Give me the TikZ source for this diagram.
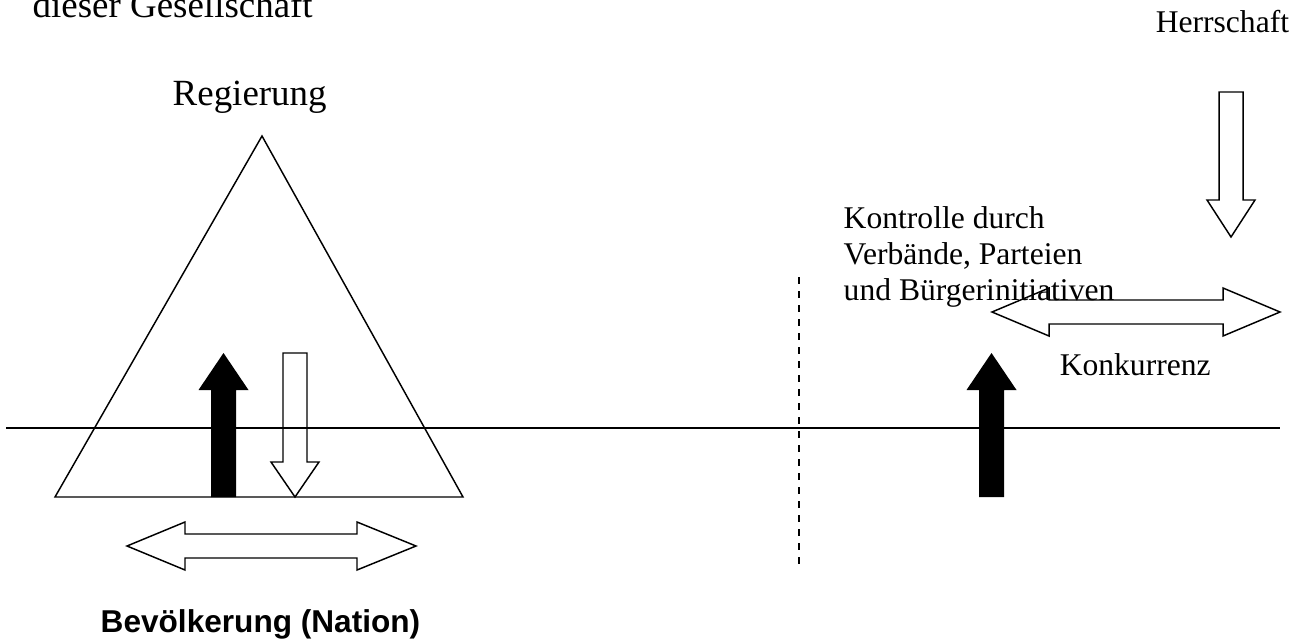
\documentclass[tikz,border=0pt]{standalone}
\usepackage{fontspec}
\usepackage{tikz}
\setmainfont{Liberation Serif}
\newfontfamily\arialfont{Liberation Sans}

\begin{document}
\begin{tikzpicture}[x=0.75pt, y=-0.75pt, line width=1.1pt,
    bigtext/.style={font=\fontsize{27.7pt}{33pt}\selectfont, inner sep=0pt},
    smalltext/.style={font=\fontsize{23.7pt}{27pt}\selectfont, inner sep=0pt},
    hollowarrow/.style={draw, line width=1.1pt, line join=miter},
    solidarrow/.style={fill=black}]
    \useasboundingbox (0,0) rectangle (1308,642);
    \clip (0,0) rectangle (1308,642);

    % labels
    \node[bigtext, anchor=base west] (gesellschaft) at (32,18) {dieser Gesellschaft};
    \node[bigtext, anchor=base west] (regierung) at (172,105) {Regierung};
    \node[smalltext, anchor=base west] (herrschaft) at (1155,33) {Herrschaft};
    \node[smalltext, anchor=north west, align=left] (kontrolle) at (843,205.5) {
        Kontrolle durch\\
        Verbände, Parteien\\
        und Bürgerinitiativen};
    \node[smalltext, anchor=base west] (konkurrenz) at (1059,375) {Konkurrenz};
    \node[anchor=base west, inner sep=0pt, font=\arialfont\bfseries\fontsize{23.7pt}{27pt}\selectfont] (nation) at (100,632) {Bevölkerung (Nation)};

    % triangle and ground line
    \coordinate (apex) at (262,136);
    \coordinate (baseleft) at (55,497);
    \coordinate (baseright) at (463,497);
    \draw (apex) -- (baseright) -- (baseleft) -- cycle;
    \draw (6,428) -- (1280,428);
    \draw[line width=1.3pt, dash pattern=on 5pt off 5.5pt] (799,277) -- (799,565);

    % black arrows up
    \foreach \ax in {223.5,991.5}
        \fill[solidarrow] (\ax-12.5,497) -- (\ax-12.5,390) -- (\ax-25,390) -- (\ax,353)
            -- (\ax+25,390) -- (\ax+12.5,390) -- (\ax+12.5,497) -- cycle;

    % hollow arrows down
    \foreach \ax/\ytop/\ybase/\ytip in {295/353/462/497, 1231/92/200/237}
        \draw[hollowarrow] (\ax-12,\ytop) -- (\ax+12,\ytop) -- (\ax+12,\ybase) -- (\ax+24,\ybase)
            -- (\ax,\ytip) -- (\ax-24,\ybase) -- (\ax-12,\ybase) -- cycle;

    % double arrows
    \foreach \xl/\xa/\xb/\xr/\yc in {127/185/357/416/546, 992/1049/1223/1280/312}
        \draw[hollowarrow] (\xl,\yc) -- (\xa,\yc-24) -- (\xa,\yc-12) -- (\xb,\yc-12) -- (\xb,\yc-24)
            -- (\xr,\yc) -- (\xb,\yc+24) -- (\xb,\yc+12) -- (\xa,\yc+12) -- (\xa,\yc+24) -- cycle;
\end{tikzpicture}
\end{document}
